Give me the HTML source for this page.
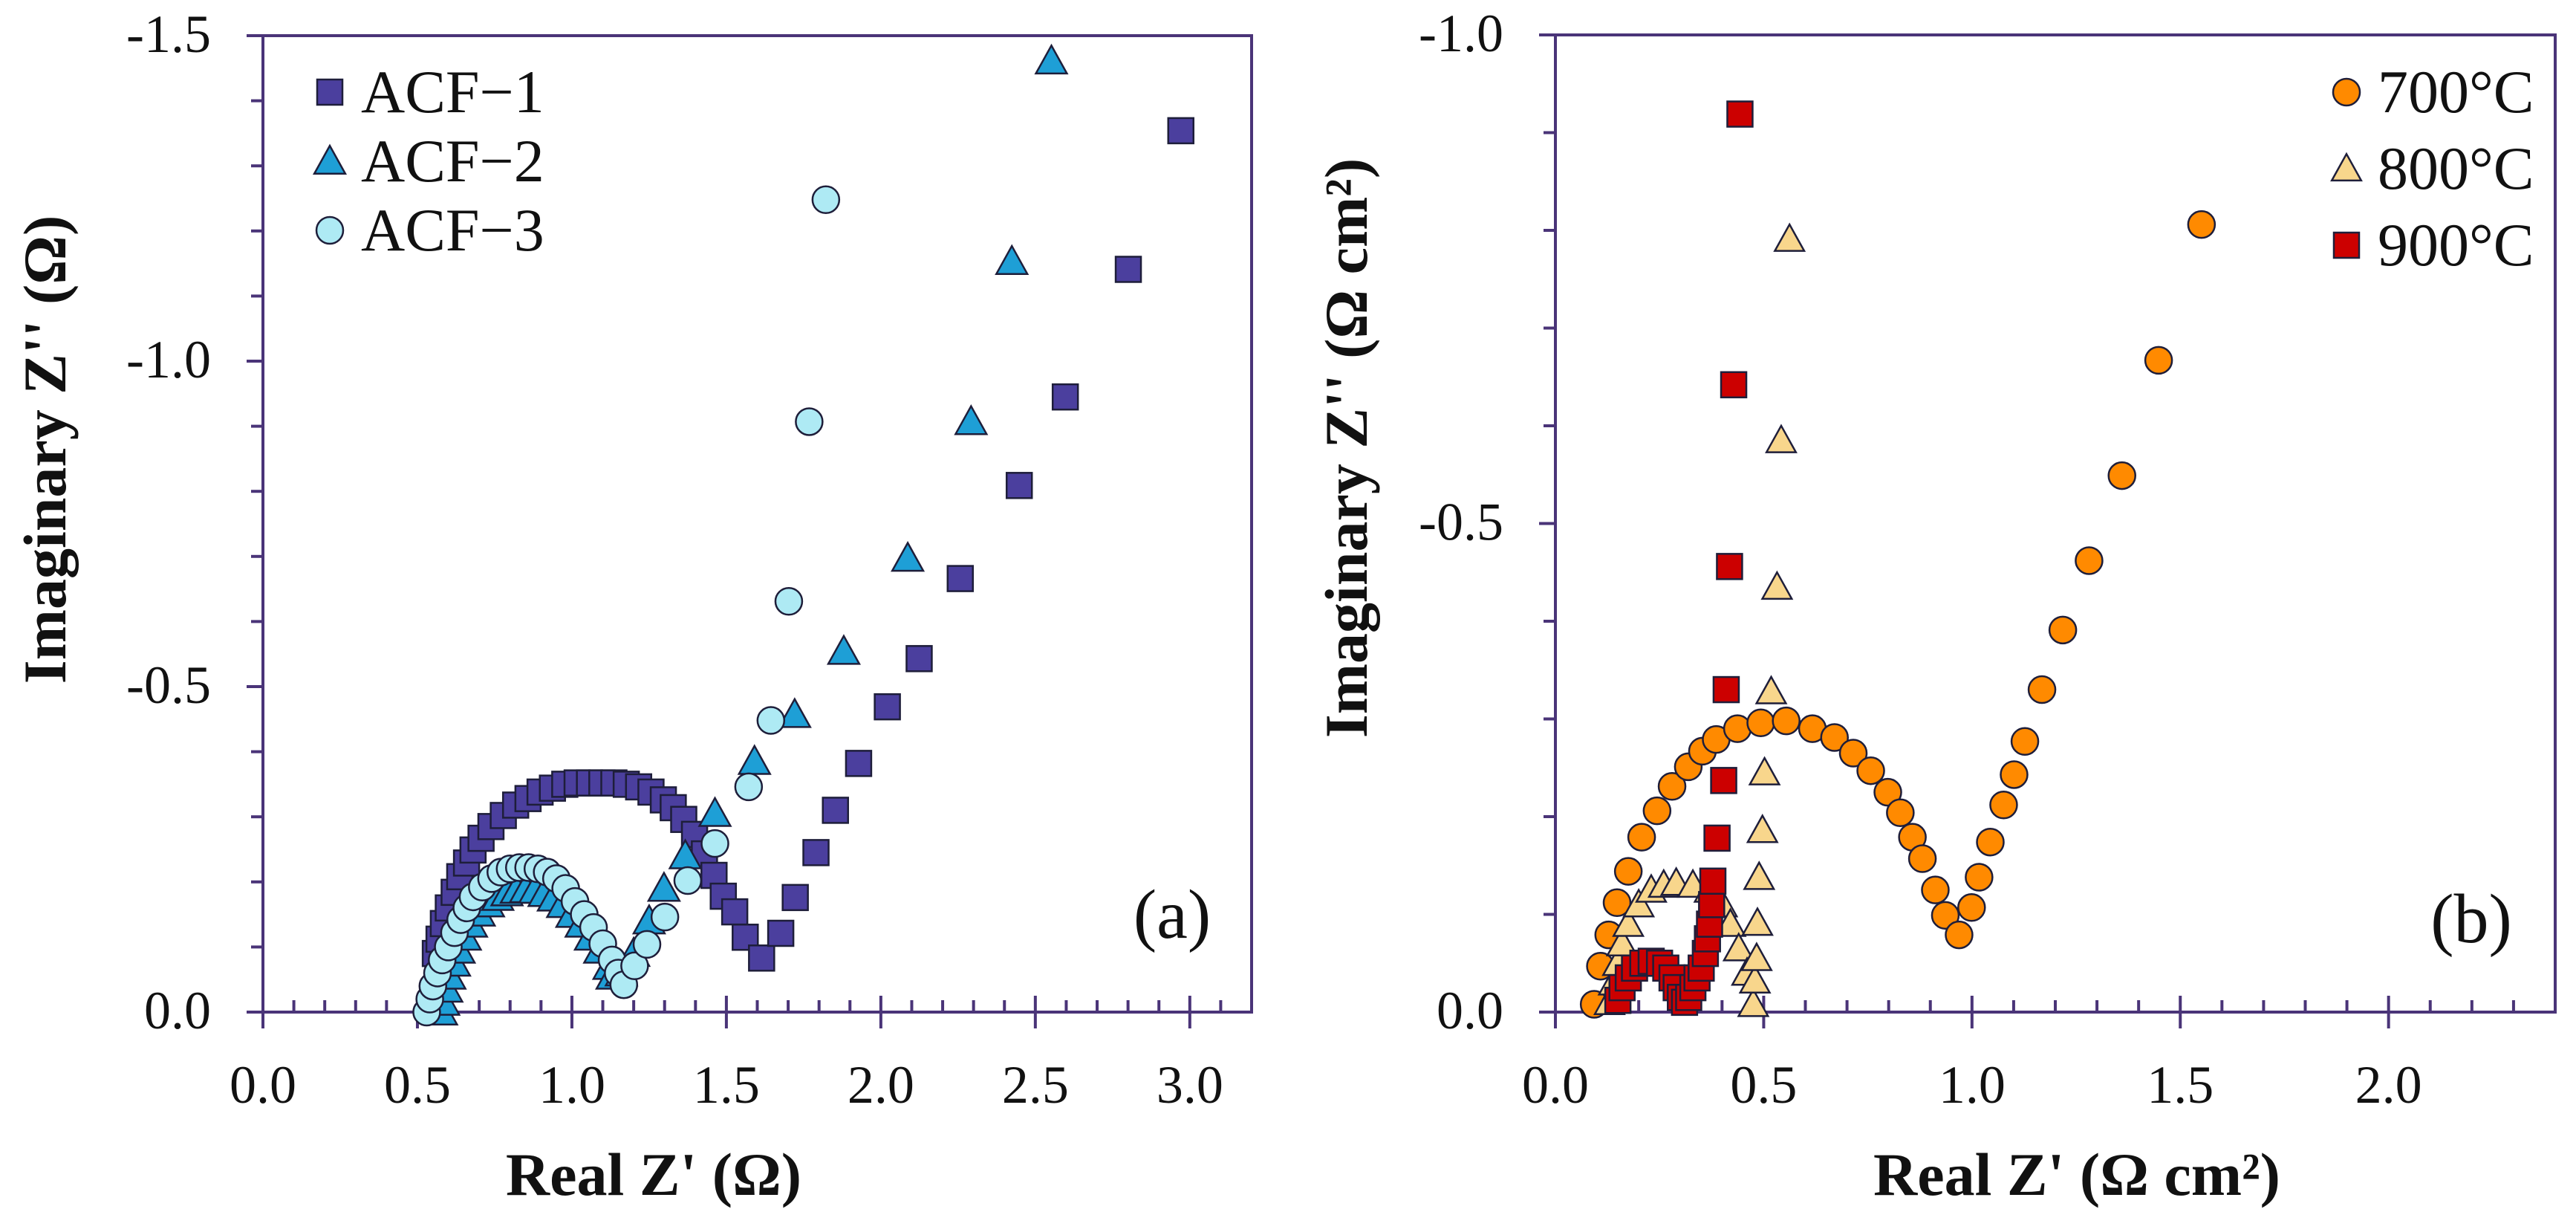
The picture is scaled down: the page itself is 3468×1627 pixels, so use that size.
<!DOCTYPE html>
<html><head><meta charset="utf-8"><title>Impedance spectra</title>
<style>
html,body{margin:0;padding:0;background:#fff;}
svg{display:block;font-family:"Liberation Serif","DejaVu Serif",serif;}
svg text{font-family:"Liberation Serif","DejaVu Serif",serif;fill:#111;}
</style></head>
<body>
<svg id="chart" width="3468" height="1627" viewBox="0 0 3468 1627" xmlns="http://www.w3.org/2000/svg" font-family="Liberation Serif, DejaVu Serif, serif">
<g id="panelA"></g>
<g id="panelB"></g>
</svg>
<script>
// ---- Panel (a) data ----
const acf1X = [2.971,2.801,2.597,2.448,2.257,2.124,2.021,1.928,1.853,1.790,1.723,1.676,1.614,1.561,1.527,1.490,1.460,1.429,1.397,1.362,1.328,1.296,1.256,1.216,1.176,1.136,1.097,1.057,1.017,0.977,0.937,0.897,0.858,0.818,0.778,0.738,0.706,0.680,0.659,0.637,0.619,0.600,0.584,0.570,0.558];
const acf1Y = [1.354,1.141,0.945,0.809,0.666,0.543,0.469,0.382,0.310,0.245,0.176,0.121,0.083,0.115,0.154,0.178,0.210,0.243,0.273,0.296,0.314,0.326,0.338,0.346,0.350,0.352,0.352,0.352,0.352,0.350,0.344,0.338,0.328,0.318,0.302,0.285,0.267,0.249,0.229,0.208,0.184,0.160,0.136,0.112,0.090];
const acf2X = [2.552,2.424,2.292,2.087,1.880,1.721,1.591,1.463,1.367,1.298,1.25,1.20,1.16,1.13,1.12,1.09,1.06,1.03,1.00,0.97,0.94,0.91,0.88,0.85,0.82,0.79,0.76,0.73,0.70,0.675,0.655,0.635,0.62,0.605,0.595,0.585,0.578];
const acf2Y = [1.461,1.153,0.907,0.697,0.554,0.457,0.385,0.305,0.240,0.190,0.14,0.09,0.06,0.055,0.07,0.095,0.115,0.135,0.15,0.165,0.175,0.182,0.187,0.188,0.187,0.183,0.176,0.166,0.152,0.135,0.115,0.095,0.075,0.055,0.035,0.015,0.0];
const acf3X = [1.822,1.768,1.702,1.644,1.572,1.463,1.375,1.301,1.243,1.203,1.168,1.15,1.13,1.10,1.07,1.04,1.01,0.98,0.95,0.92,0.89,0.86,0.83,0.80,0.77,0.74,0.71,0.68,0.66,0.64,0.62,0.60,0.58,0.565,0.55,0.54,0.53];
const acf3Y = [1.248,0.907,0.631,0.448,0.346,0.259,0.202,0.146,0.104,0.071,0.042,0.06,0.08,0.105,0.13,0.15,0.17,0.19,0.205,0.215,0.22,0.222,0.222,0.22,0.215,0.205,0.192,0.177,0.16,0.142,0.122,0.10,0.08,0.06,0.04,0.02,0.0];
const aXTicks = ["0.0","0.5","1.0","1.5","2.0","2.5","3.0"];
const aYTicks = ["0.0","-0.5","-1.0","-1.5"];
// ---- Panel (b) data ----
const t700X = [1.551,1.448,1.360,1.281,1.218,1.168,1.127,1.101,1.076,1.044,1.017,0.999,0.969,0.936,0.912,0.881,0.857,0.828,0.798,0.757,0.715,0.670,0.617,0.554,0.493,0.437,0.386,0.353,0.319,0.280,0.244,0.207,0.175,0.148,0.128,0.108,0.093];
const t700Y = [0.806,0.667,0.549,0.462,0.391,0.330,0.277,0.243,0.212,0.174,0.138,0.107,0.079,0.099,0.125,0.157,0.179,0.204,0.225,0.247,0.265,0.281,0.290,0.298,0.296,0.290,0.279,0.267,0.251,0.231,0.206,0.179,0.144,0.112,0.079,0.047,0.008];
const t800X = [0.562,0.542,0.532,0.518,0.502,0.497,0.489,0.485,0.483,0.479,0.475,0.46,0.44,0.42,0.40,0.37,0.33,0.29,0.26,0.23,0.20,0.175,0.16,0.15,0.14,0.13];
const t800Y = [0.791,0.585,0.435,0.328,0.245,0.186,0.138,0.091,0.055,0.032,0.008,0.04,0.065,0.09,0.11,0.125,0.13,0.132,0.13,0.125,0.11,0.09,0.07,0.05,0.03,0.01];
const t900X = [0.443,0.428,0.418,0.410,0.404,0.388,0.378,0.375,0.37,0.365,0.36,0.35,0.34,0.33,0.32,0.31,0.30,0.29,0.28,0.265,0.25,0.23,0.21,0.19,0.175,0.16,0.15];
const t900Y = [0.919,0.642,0.456,0.330,0.237,0.178,0.134,0.11,0.09,0.075,0.06,0.045,0.035,0.025,0.015,0.01,0.015,0.025,0.035,0.045,0.05,0.052,0.05,0.045,0.035,0.025,0.012];
const bXTicks = ["0.0","0.5","1.0","1.5","2.0"];
const bYTicks = ["0.0","-0.5","-1.0"];

const NS = "http://www.w3.org/2000/svg";
const FF = "Liberation Serif, DejaVu Serif, serif";
function mk(parent, tag, attrs){
  const e = document.createElementNS(NS, tag);
  for (const k in attrs) e.setAttribute(k, attrs[k]);
  if (tag === "text") e.setAttribute("font-family", FF);
  parent.appendChild(e);
  return e;
}
const AXC = "#4a3478";

function drawPanel(g, cfg){
  const sx = v => cfg.x0 + v / cfg.xmax * (cfg.x1 - cfg.x0);
  const sy = v => cfg.y1 - v / cfg.ymax * (cfg.y1 - cfg.y0);
  const fr = mk(g, "rect", {x:cfg.x0, y:cfg.y0, width:cfg.x1-cfg.x0, height:cfg.y1-cfg.y0, fill:"none", stroke:AXC, "stroke-width":4});
  
  
  for (let i = 0; i * 0.1 <= cfg.xmax + 1e-9; i++){
    const x = sx(i * 0.1);
    const major = i % 5 === 0;
    const t = mk(g, "line", {x1:x, x2:x, y1: major ? cfg.y1+22 : cfg.y1-16, y2: major ? cfg.y1-22 : cfg.y1, stroke:AXC, "stroke-width":4});
    
    
  }
  for (let i = 0; i * 0.1 <= cfg.ymax + 1e-9; i++){
    const y = sy(i * 0.1);
    const major = i % 5 === 0;
    const t = mk(g, "line", {x1: major ? cfg.x0-22 : cfg.x0-16, x2: cfg.x0, y1:y, y2:y, stroke:AXC, "stroke-width":4});
    
    
  }
  cfg.xTicks.forEach(lbl => {
    const v = Math.abs(parseFloat(lbl));
    const t = mk(g, "text", {x:sx(v), y:cfg.y1+122, "text-anchor":"middle", "font-size":72});
    t.textContent = lbl;
    
    
  });
  cfg.yTicks.forEach(lbl => {
    const v = Math.abs(parseFloat(lbl));
    const t = mk(g, "text", {x:cfg.x0-70, y:sy(v)+22, "text-anchor":"end", "font-size":72});
    t.textContent = lbl;
    
    
  });
  const xt = mk(g, "text", {x:cfg.xTitleX, y:1608, "text-anchor":"middle", "font-size":82, "font-weight":"bold"});
  xt.textContent = cfg.xTitle;
  
  
  const yt = mk(g, "text", {x:0, y:0, "text-anchor":"middle", "font-size":82, "font-weight":"bold", transform:`translate(${cfg.yTitleX},${cfg.yTitleY}) rotate(-90)`});
  yt.textContent = cfg.yTitle;
  
  
  const pl = mk(g, "text", {x:cfg.lblX, y:cfg.lblY, "text-anchor":"middle", "font-size":94});
  pl.textContent = cfg.lbl;
  
  
  cfg.series.forEach(s => {
    const sg = mk(g, "g", {});
    
    
    for (let i = s.xs.length - 1; i >= 0; i--){
      const m = marker(sg, s.shape, sx(s.xs[i]), sy(s.ys[i]), s.size, s.fill);
      
      
    }
  });
  cfg.series.forEach((s, i) => {
    const ly = cfg.legY + i * cfg.legDy;
    const m = marker(g, s.shape, cfg.legX, ly, s.size, s.fill);
    
    
    const t = mk(g, "text", {x:cfg.legX + 42, y:ly + 27, "font-size":82});
    t.textContent = s.label;
    
    
  });
}
function marker(g, shape, x, y, size, fill){
  const h = size / 2;
  const common = {fill:fill, stroke:"#1e1e3a", "stroke-width":2.5};
  if (shape === "square") return mk(g, "rect", Object.assign({x:x-h, y:y-h, width:size, height:size}, common));
  if (shape === "circle") return mk(g, "circle", Object.assign({cx:x, cy:y, r:h}, common));
  const hh = size * 0.55;
  return mk(g, "polygon", Object.assign({points:`${x},${y-hh} ${x+hh},${y+hh*0.8} ${x-hh},${y+hh*0.8}`}, common));
}

drawPanel(document.getElementById("panelA"), {
  x0:354, x1:1685, y0:48, y1:1362, xmax:3.2, ymax:1.5,
  xTicks:aXTicks, yTicks:aYTicks,
  xTitle:"Real Z' (Ω)", xTitleX:880, yTitle:"Imaginary Z'' (Ω)", yTitleX:88, yTitleY:605,
  lbl:"(a)", lblX:1578, lblY:1262,
  legX:444, legY:124, legDy:93,
  series:[
    {name:"acf-1", label:"ACF−1", shape:"square", size:34, fill:"#4b3f9e", xs:acf1X, ys:acf1Y},
    {name:"acf-2", label:"ACF−2", shape:"triangle", size:38, fill:"#1e9fd6", xs:acf2X, ys:acf2Y},
    {name:"acf-3", label:"ACF−3", shape:"circle", size:36, fill:"#aeeaf4", xs:acf3X, ys:acf3Y}
  ]
});
drawPanel(document.getElementById("panelB"), {
  x0:2094, x1:3440, y0:47, y1:1362, xmax:2.4, ymax:1.0,
  xTicks:bXTicks, yTicks:bYTicks,
  xTitle:"Real Z' (Ω cm²)", xTitleX:2796, yTitle:"Imaginary Z'' (Ω cm²)", yTitleX:1840, yTitleY:603,
  lbl:"(b)", lblX:3327, lblY:1268,
  legX:3159, legY:124, legDy:103,
  series:[
    {name:"t700", label:"700°C", shape:"circle", size:36, fill:"#ff8a00", xs:t700X, ys:t700Y},
    {name:"t800", label:"800°C", shape:"triangle", size:36, fill:"#f8d68c", xs:t800X, ys:t800Y},
    {name:"t900", label:"900°C", shape:"square", size:34, fill:"#cc0000", xs:t900X, ys:t900Y}
  ]
});
</script>
</body></html>
